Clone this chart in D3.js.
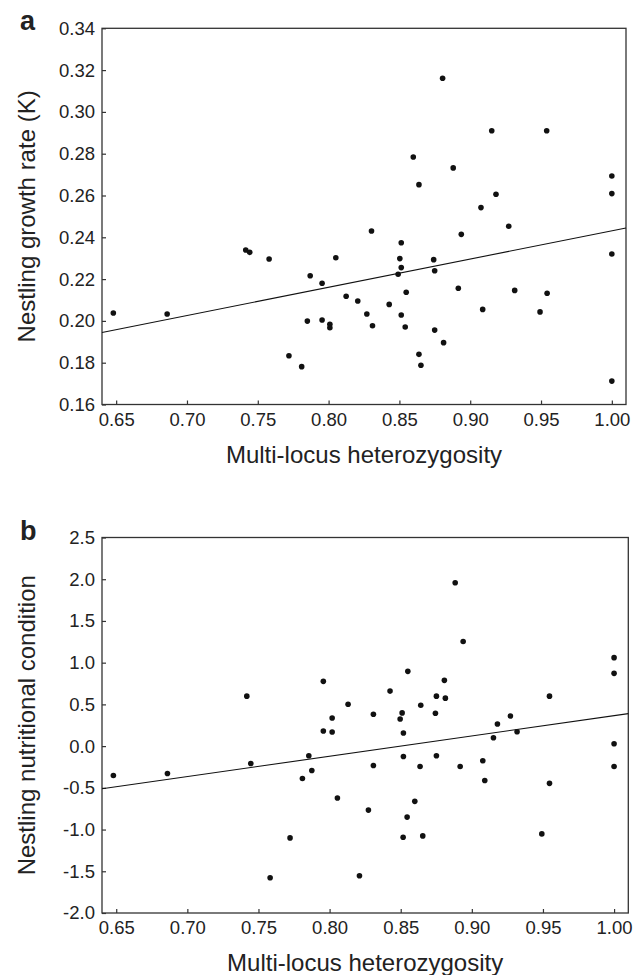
<!DOCTYPE html>
<html>
<head>
<meta charset="UTF-8">
<title>Heterozygosity</title>
<script src="https://cdn.jsdelivr.net/npm/d3@7/dist/d3.min.js"></script>
<style>
	body { margin: 0; background: #fff; }
	svg text { font-family: "Liberation Sans", Arial, sans-serif; fill: #222; }
</style>
</head>
<body>
	<div id="chart"></div>
	<script type="text/javascript">
		// panel a: multi-locus heterozygosity vs growth rate K
		var hetA = [0.648, 0.686, 0.7415, 0.7443, 0.758, 0.772, 0.781, 0.785, 0.787, 0.7954, 0.7954, 0.8009, 0.8009,
			0.8051, 0.8124, 0.8206, 0.827, 0.8303, 0.831, 0.8428, 0.8491, 0.8503, 0.8513, 0.8513, 0.8513, 0.8541,
			0.8548, 0.8598, 0.8638, 0.8638, 0.8652, 0.8742, 0.8749, 0.8749, 0.8805, 0.8812, 0.888, 0.8916, 0.8937,
			0.9076, 0.9088, 0.9152, 0.9182, 0.9272, 0.9314, 0.9493, 0.954, 0.9543, 1.00, 1.00, 1.00, 1.00];
		var growthK = [0.2038, 0.2033, 0.2339, 0.2328, 0.2296, 0.1833, 0.1781, 0.1999, 0.2216, 0.2004, 0.218, 0.1984, 0.1967,
			0.2302, 0.2118, 0.2095, 0.2033, 0.243, 0.1977, 0.2079, 0.2223, 0.2298, 0.2374, 0.2255, 0.2028, 0.1971,
			0.2137, 0.2784, 0.2652, 0.184, 0.1788, 0.2293, 0.224, 0.1956, 0.3161, 0.1896, 0.2732, 0.2156, 0.2414,
			0.2542, 0.2055, 0.291, 0.2606, 0.2453, 0.2146, 0.2043, 0.291, 0.2132, 0.2693, 0.2609, 0.232, 0.1712];
		var fitA = [0.1080, 0.1351]; // intercept, slope

		// panel b: multi-locus heterozygosity vs nutritional condition
		var hetB = [0.648, 0.686, 0.7418, 0.7446, 0.7582, 0.7722, 0.7809, 0.7854, 0.7875, 0.7956, 0.7956, 0.8018, 0.8018,
			0.8055, 0.813, 0.821, 0.8273, 0.8308, 0.8308, 0.8425, 0.8496, 0.851, 0.8519, 0.8519, 0.8517, 0.8545,
			0.855, 0.8599, 0.8636, 0.8641, 0.8655, 0.8744, 0.8751, 0.8751, 0.8807, 0.8814, 0.8883, 0.8918, 0.8939,
			0.9077, 0.9091, 0.9152, 0.918, 0.9271, 0.9318, 0.9492, 0.9546, 0.9546, 1.00, 1.00, 1.00, 1.00];
		var condition = [-0.353, -0.329, 0.599, -0.208, -1.578, -1.10, -0.389, -0.116, -0.293, 0.776, 0.181, 0.337, 0.169,
			-0.622, 0.502, -1.554, -0.767, 0.382, -0.233, 0.659, 0.325, 0.398, 0.157, -0.124, -1.092, -0.851,
			0.896, -0.662, -0.245, 0.49, -1.076, 0.394, 0.599, -0.116, 0.788, 0.575, 1.957, -0.245, 1.253,
			-0.176, -0.413, 0.101, 0.265, 0.361, 0.173, -1.052, 0.599, -0.446, 1.06, 0.872, 0.029, -0.245];
		var fitB = [-2.067, 2.432];

		var xTicks = [0.65, 0.70, 0.75, 0.80, 0.85, 0.90, 0.95, 1.00];
		var yTicksA = [0.16, 0.18, 0.20, 0.22, 0.24, 0.26, 0.28, 0.30, 0.32, 0.34];
		var yTicksB = [-2.0, -1.5, -1.0, -0.5, 0.0, 0.5, 1.0, 1.5, 2.0, 2.5];

		var W = 643, H = 975;
		var svg = d3.select("#chart").append("svg").attr("width", W).attr("height", H);

		var drawPanel = function(p) {
			var x = d3.scaleLinear().domain([0.64, 1.01]).range([p.left, p.right]);
			var y = d3.scaleLinear().domain([yTicks(p)[0], yTicks(p)[yTicks(p).length - 1]]).range([p.bottom, p.top]);
			var g = svg.append("g");

			// x axis, ticks pointing inward
			var gx = g.append("g").attr("transform", "translate(0," + p.bottom + ")")
				.call(d3.axisBottom(x).tickValues(xTicks).tickSizeInner(-4).tickSizeOuter(0).tickPadding(8)
					.tickFormat(function(d) { return d.toFixed(2); }));
			gx.select(".domain").remove();
			gx.selectAll("line").attr("stroke", "#333").attr("stroke-width", 1.2);
			gx.selectAll("text").attr("font-size", 18.5).attr("fill", "#222").attr("dy", "0.71em");

			// y axis
			var gy = g.append("g").attr("transform", "translate(" + p.left + ",0)")
				.call(d3.axisLeft(y).tickValues(p.ticks).tickSizeInner(-4).tickSizeOuter(0).tickPadding(7)
					.tickFormat(function(d) { return d.toFixed(p.dec); }));
			gy.select(".domain").remove();
			gy.selectAll("line").attr("stroke", "#333").attr("stroke-width", 1.2);
			gy.selectAll("text").attr("font-size", 18.5).attr("fill", "#222");

			// frame
			g.append("rect").attr("x", p.left).attr("y", p.top)
				.attr("width", p.right - p.left).attr("height", p.bottom - p.top)
				.attr("fill", "none").attr("stroke", "#333").attr("stroke-width", 1.3);

			// regression line
			var xd = x.domain();
			g.append("path").datum(xd).attr("fill", "none").attr("stroke", "#111").attr("stroke-width", 1.1)
				.attr("d", d3.line().x(function(d) { return x(d); }).y(function(d) { return y(p.fit[0] + p.fit[1] * d); }));

			// points
			g.selectAll("circle.pt").data(d3.range(p.xs.length)).enter().append("circle")
				.attr("class", "pt")
				.attr("cx", function(i) { return x(p.xs[i]); })
				.attr("cy", function(i) { return y(p.ys[i]); })
				.attr("r", 2.8).attr("fill", "#111");

			// titles
			g.append("text").attr("x", (p.left + p.right) / 2).attr("y", p.bottom + 58)
				.attr("text-anchor", "middle").attr("font-size", 24).text("Multi-locus heterozygosity");
			g.append("text").attr("transform", "translate(35," + ((p.top + p.bottom) / 2) + ") rotate(-90)")
				.attr("text-anchor", "middle").attr("font-size", 24).text(p.ylabel);
			g.append("text").attr("x", 20).attr("y", p.top + 2)
				.attr("font-size", 27).attr("font-weight", "bold").attr("fill", "#000").text(p.letter);
		};

		var yTicks = function(p) { return p.ticks; };

		drawPanel({ left: 102, right: 626, top: 28.3, bottom: 404.5, xs: hetA, ys: growthK, fit: fitA,
			ticks: yTicksA, dec: 2, ylabel: "Nestling growth rate (K)", letter: "a" });
		drawPanel({ left: 102, right: 628.3, top: 537.5, bottom: 913, xs: hetB, ys: condition, fit: fitB,
			ticks: yTicksB, dec: 1, ylabel: "Nestling nutritional condition", letter: "b" });
	</script>
</body>
</html>
